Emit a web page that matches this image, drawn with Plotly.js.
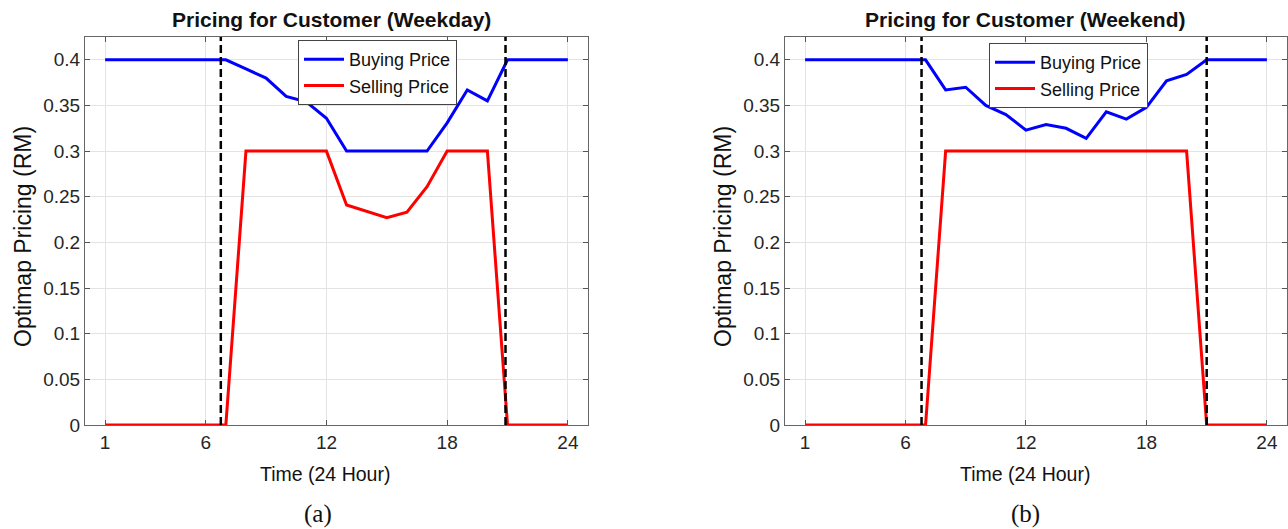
<!DOCTYPE html>
<html>
<head>
<meta charset="utf-8">
<script src="https://cdn.plot.ly/plotly-3.0.1.min.js"></script>
<style>
html,body{margin:0;padding:0;background:#fff;}
#chart{width:1288px;height:529px;}
</style>
</head>
<body>
<div id="chart"></div>
<script>
// ---- data ----
const hours = [1,2,3,4,5,6,7,8,9,10,11,12,13,14,15,16,17,18,19,20,21,22,23,24];
const buyWeekday  = [0.4,0.4,0.4,0.4,0.4,0.4,0.4,0.390,0.380,0.360,0.354,0.336,0.300,0.300,0.300,0.300,0.300,0.331,0.367,0.355,0.4,0.4,0.4,0.4];
const sellWeekday = [0,0,0,0,0,0,0,0.3,0.3,0.3,0.3,0.3,0.241,0.234,0.227,0.233,0.261,0.3,0.3,0.3,0,0,0,0];
const buyWeekend  = [0.4,0.4,0.4,0.4,0.4,0.4,0.4,0.367,0.370,0.350,0.340,0.323,0.329,0.325,0.314,0.343,0.335,0.348,0.377,0.384,0.4,0.4,0.4,0.4];
const sellWeekend = [0,0,0,0,0,0,0,0.3,0.3,0.3,0.3,0.3,0.3,0.3,0.3,0.3,0.3,0.3,0.3,0.3,0,0,0,0];
const weekdayBounds = [6.75, 20.9];
const weekendBounds = [6.8, 21.0];
const xTickVals = [1, 6, 12, 18, 24];
const yTickVals = [0, 0.05, 0.1, 0.15, 0.2, 0.25, 0.3, 0.35, 0.4];
const yTickText = ['0','0.05','0.1','0.15','0.2','0.25','0.3','0.35','0.4'];
const xRange = [0, 25];
const yRange = [0, 0.425];
const seriesNames = ['Buying Price', 'Selling Price'];
const titles = ['Pricing for Customer (Weekday)', 'Pricing for Customer (Weekend)'];
const xTitle = 'Time (24 Hour)';
const yTitle = 'Optimap Pricing (RM)';
const panelLabels = ['(a)', '(b)'];

const FONT = 'Liberation Sans, Arial, Helvetica, sans-serif';
const BLUE = '#0000ff', RED = '#ff0000';

function boundTraces(bounds, xa, ya) {
  return bounds.map(b => ({
    x: [b, b], y: yRange, xaxis: xa, yaxis: ya, mode: 'lines',
    line: {color: '#000', width: 2.5, dash: '8px,4px'},
    showlegend: false, hoverinfo: 'skip'
  }));
}

const traces = [
  {x: hours, y: buyWeekday, name: seriesNames[0], mode: 'lines', line: {color: BLUE, width: 3}, xaxis: 'x', yaxis: 'y', legend: 'legend'},
  {x: hours, y: sellWeekday, name: seriesNames[1], mode: 'lines', line: {color: RED, width: 3}, xaxis: 'x', yaxis: 'y', legend: 'legend'},
  ...boundTraces(weekdayBounds, 'x', 'y'),
  {x: hours, y: buyWeekend, name: seriesNames[0], mode: 'lines', line: {color: BLUE, width: 3}, xaxis: 'x2', yaxis: 'y2', legend: 'legend2'},
  {x: hours, y: sellWeekend, name: seriesNames[1], mode: 'lines', line: {color: RED, width: 3}, xaxis: 'x2', yaxis: 'y2', legend: 'legend2'},
  ...boundTraces(weekendBounds, 'x2', 'y2')
];

function xax(domain, anchor) {
  return {
    domain: domain, anchor: anchor, range: xRange,
    tickmode: 'array', tickvals: xTickVals, ticktext: xTickVals.map(String),
    ticks: 'inside', ticklen: 5, tickcolor: '#555', tickwidth: 1,
    showline: true, linecolor: '#666', linewidth: 1, mirror: 'ticks',
    showgrid: true, gridcolor: '#e3e3e3', gridwidth: 1, zeroline: false,
    tickfont: {family: FONT, size: 19, color: '#262626'}
  };
}
function yax(domain, anchor) {
  return {
    domain: domain, anchor: anchor, range: yRange,
    tickmode: 'array', tickvals: yTickVals, ticktext: yTickText,
    ticks: 'inside', ticklen: 5, tickcolor: '#555', tickwidth: 1,
    showline: true, linecolor: '#666', linewidth: 1, mirror: 'ticks',
    showgrid: true, gridcolor: '#e3e3e3', gridwidth: 1, zeroline: false,
    tickfont: {family: FONT, size: 19, color: '#262626'}
  };
}

const W = 1288, H = 529;
const px = v => v / W;
const py = v => 1 - v / H;

const yDom = [py(425), py(37)];
const legendBase = {
  bgcolor: '#ffffff', bordercolor: '#444', borderwidth: 1,
  font: {family: FONT, size: 18, color: '#111'},
  xanchor: 'left', yanchor: 'top', tracegroupgap: 0, itemwidth: 40
};

const ann = [];
function addText(text, x, y, size, opts) {
  ann.push(Object.assign({text: text, x: px(x), y: py(y), xref: 'paper', yref: 'paper',
    showarrow: false, xanchor: 'center', yanchor: 'middle',
    font: {family: FONT, size: size, color: '#111'}}, opts || {}));
}
addText('<b>' + titles[0] + '</b>', 331, 19, 21);
addText('<b>' + titles[1] + '</b>', 1025, 19, 21);
addText(xTitle, 325, 474, 19.5);
addText(xTitle, 1025, 474, 19.5);
addText(yTitle, 23, 237, 23, {textangle: -90});
addText(yTitle, 723, 237, 23, {textangle: -90});
addText(panelLabels[0], 318, 514, 25, {font: {family: 'Liberation Serif, Times New Roman, serif', size: 25, color: '#111'}});
addText(panelLabels[1], 1025, 514, 25, {font: {family: 'Liberation Serif, Times New Roman, serif', size: 25, color: '#111'}});

const layout = {
  width: W, height: H,
  margin: {l: 0, r: 0, t: 0, b: 0},
  paper_bgcolor: '#fff', plot_bgcolor: '#fff',
  showlegend: true,
  xaxis: xax([px(85), px(588)], 'y'),
  yaxis: yax(yDom, 'x'),
  xaxis2: xax([px(785), px(1287)], 'y2'),
  yaxis2: yax(yDom, 'x2'),
  legend: Object.assign({}, legendBase, {x: px(298), y: py(40)}),
  legend2: Object.assign({}, legendBase, {x: px(989), y: py(43)}),
  annotations: ann
};

Plotly.newPlot('chart', traces, layout, {staticPlot: true, displayModeBar: false});
</script>
</body>
</html>
